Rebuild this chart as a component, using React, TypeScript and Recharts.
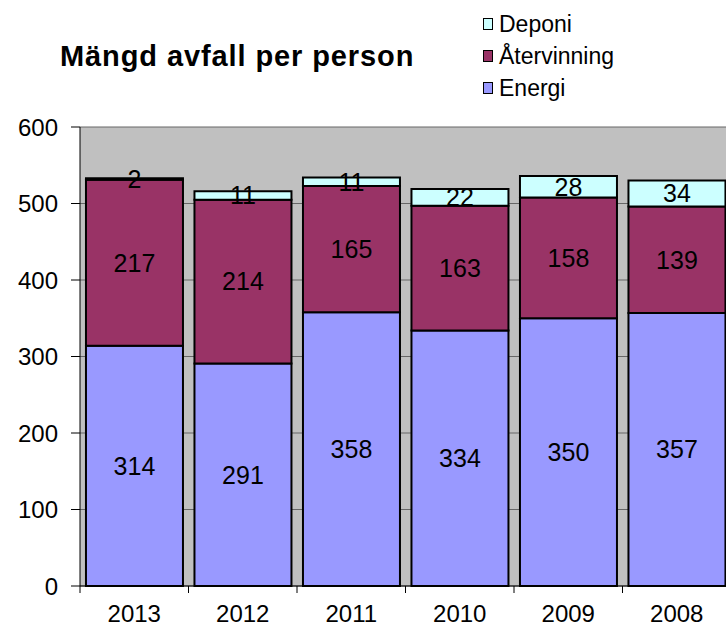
import React from "react"
import { BarChart, Bar, XAxis, YAxis, CartesianGrid, LabelList } from "recharts"

const years = ["2013", "2012", "2011", "2010", "2009", "2008"]
const energi = [314, 291, 358, 334, 350, 357]
const atervinning = [217, 214, 165, 163, 158, 139]
const deponi = [2, 11, 11, 22, 28, 34]
const yTicks = [0, 100, 200, 300, 400, 500, 600]

const series = [
    { key: "deponi", name: "Deponi", color: "#CCFFFF" },
    { key: "atervinning", name: "Återvinning", color: "#993366" },
    { key: "energi", name: "Energi", color: "#9999FF" },
]

const data = years.map((year, i) => ({
    year,
    energi: energi[i],
    atervinning: atervinning[i],
    deponi: deponi[i],
}))

const FONT = "'Liberation Sans', Arial, sans-serif"
const CHART_W = 740
const CHART_H = 628
const MARGIN = { top: 127, right: 9, bottom: 0, left: 0 }
const Y_W = 80
const BAND = (CHART_W - MARGIN.right - Y_W) / years.length

function YearTick(props: any) {
    const { x, y, payload } = props
    const lx = x - BAND / 2
    return (
        <g>
            <line x1={lx} y1={y} x2={lx} y2={y + 7} stroke="#000" strokeWidth={1} />
            <text x={x} y={y + 36} textAnchor="middle" fontSize={24} fill="#000" fontFamily={FONT}>
                {payload.value}
            </text>
        </g>
    )
}

function LegendBox() {
    return (
        <div
            style={{
                position: "absolute",
                left: 483,
                top: 8,
                fontFamily: FONT,
                fontSize: 23,
                color: "#000",
            }}
        >
            {series.map((s) => (
                <div key={s.key} style={{ display: "flex", alignItems: "center", height: 32 }}>
                    <span
                        style={{
                            display: "inline-block",
                            width: 8,
                            height: 10,
                            background: s.color,
                            border: "1.5px solid #000",
                            marginRight: 6,
                        }}
                    />
                    <span>{s.name}</span>
                </div>
            ))}
        </div>
    )
}

export default function App() {
    return (
        <div
            style={{
                position: "absolute",
                top: 0,
                left: 0,
                width: 726,
                height: 628,
                overflow: "hidden",
                background: "#fff",
            }}
        >
            <div
                style={{
                    position: "absolute",
                    left: 60,
                    top: 40,
                    fontFamily: FONT,
                    fontWeight: "bold",
                    fontSize: 29,
                    letterSpacing: 0.9,
                    color: "#000",
                    whiteSpace: "nowrap",
                }}
            >
                Mängd avfall per person
            </div>
            <LegendBox />
            <BarChart width={CHART_W} height={CHART_H} data={data} margin={MARGIN} barCategoryGap="5.5%">
                <CartesianGrid vertical={false} stroke="#666" fill="#C0C0C0" fillOpacity={1} />
                <XAxis
                    dataKey="year"
                    height={42}
                    tickSize={0}
                    tickMargin={0}
                    axisLine={{ stroke: "#000" }}
                    tick={<YearTick />}
                    interval={0}
                />
                <YAxis
                    width={Y_W}
                    domain={[0, 600]}
                    ticks={yTicks}
                    interval={0}
                    tickSize={9}
                    tickMargin={13}
                    axisLine={{ stroke: "#000" }}
                    tickLine={{ stroke: "#000" }}
                    tick={{ fontSize: 24, fill: "#000", fontFamily: FONT }}
                />
                <Bar dataKey="energi" name="Energi" stackId="a" fill="#9999FF" stroke="#000" strokeWidth={2} isAnimationActive={false}>
                    <LabelList dataKey="energi" position="center" fill="#000" fontSize={25} fontFamily={FONT} />
                </Bar>
                <Bar dataKey="atervinning" name="Återvinning" stackId="a" fill="#993366" stroke="#000" strokeWidth={2} isAnimationActive={false}>
                    <LabelList dataKey="atervinning" position="center" fill="#000" fontSize={25} fontFamily={FONT} />
                </Bar>
                <Bar dataKey="deponi" name="Deponi" stackId="a" fill="#CCFFFF" stroke="#000" strokeWidth={2} isAnimationActive={false}>
                    <LabelList dataKey="deponi" position="center" fill="#000" fontSize={25} fontFamily={FONT} />
                </Bar>
            </BarChart>
        </div>
    )
}
